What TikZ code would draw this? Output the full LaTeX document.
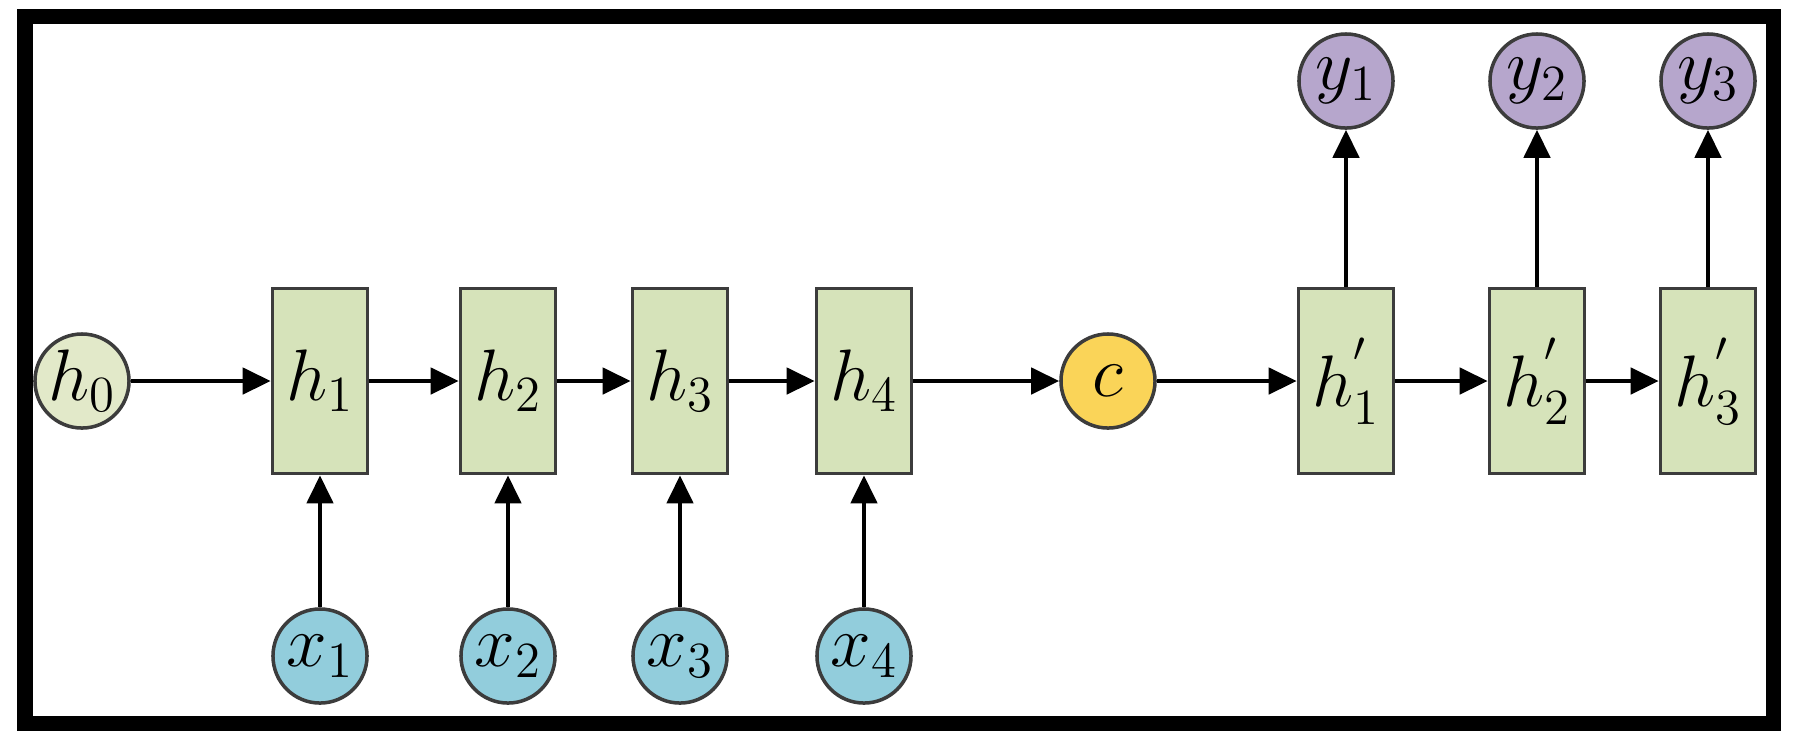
\documentclass[tikz,border=0pt]{standalone}
\usetikzlibrary{arrows.meta}

\definecolor{cellgreen}{RGB}{214,227,186}
\definecolor{startgreen}{RGB}{226,233,201}
\definecolor{inblue}{RGB}{146,205,220}
\definecolor{ctxyellow}{RGB}{250,212,88}
\definecolor{outviolet}{RGB}{182,166,204}
\definecolor{edgegray}{RGB}{60,60,60}

\begin{document}
\begin{tikzpicture}[
  x = 0.01cm,
  y = -0.01cm,
  cell/.style = {
    shape = rectangle,
    draw = edgegray,
    fill = cellgreen,
    line width = 1pt,
    minimum width = 0.95cm,
    minimum height = 1.85cm,
    inner sep = 0pt,
    font = \huge
  },
  token/.style = {
    shape = circle,
    draw = edgegray,
    line width = 1pt,
    minimum size = 0.94cm,
    inner sep = 0pt,
    font = \huge
  },
  link/.style = {
    line width = 1.3pt,
    -{Triangle[length = 0.28cm, width = 0.26cm]}
  }
]
  \useasboundingbox (0, 0) rectangle (1796, 750);
  \draw[line width = 0.15cm] (25, 16) rectangle (1773, 723);

  \node[token, fill = startgreen] (h0) at (82, 381) {$h_{0}$};

  \node[cell] (h1) at (320, 381) {$h_{1}$};
  \node[cell] (h2) at (508, 381) {$h_{2}$};
  \node[cell] (h3) at (680, 381) {$h_{3}$};
  \node[cell] (h4) at (864, 381) {$h_{4}$};

  \node[token, fill = inblue] (x1) at (320, 656) {$x_{1}$};
  \node[token, fill = inblue] (x2) at (508, 656) {$x_{2}$};
  \node[token, fill = inblue] (x3) at (680, 656) {$x_{3}$};
  \node[token, fill = inblue] (x4) at (864, 656) {$x_{4}$};

  \node[token, fill = ctxyellow] (c) at (1108, 381) {$c$};

  \node[cell] (d1) at (1346, 381) {$h^{'}_{1}$};
  \node[cell] (d2) at (1537, 381) {$h^{'}_{2}$};
  \node[cell] (d3) at (1708, 381) {$h^{'}_{3}$};

  \node[token, fill = outviolet] (y1) at (1346, 81) {$y_{1}$};
  \node[token, fill = outviolet] (y2) at (1537, 81) {$y_{2}$};
  \node[token, fill = outviolet] (y3) at (1708, 81) {$y_{3}$};

  \draw[link] (h0) -- (h1);
  \draw[link] (h1) -- (h2);
  \draw[link] (h2) -- (h3);
  \draw[link] (h3) -- (h4);
  \draw[link] (h4) -- (c);
  \draw[link] (c) -- (d1);
  \draw[link] (d1) -- (d2);
  \draw[link] (d2) -- (d3);

  \draw[link] (x1) -- (h1);
  \draw[link] (x2) -- (h2);
  \draw[link] (x3) -- (h3);
  \draw[link] (x4) -- (h4);

  \draw[link] (d1) -- (y1);
  \draw[link] (d2) -- (y2);
  \draw[link] (d3) -- (y3);
\end{tikzpicture}
\end{document}
